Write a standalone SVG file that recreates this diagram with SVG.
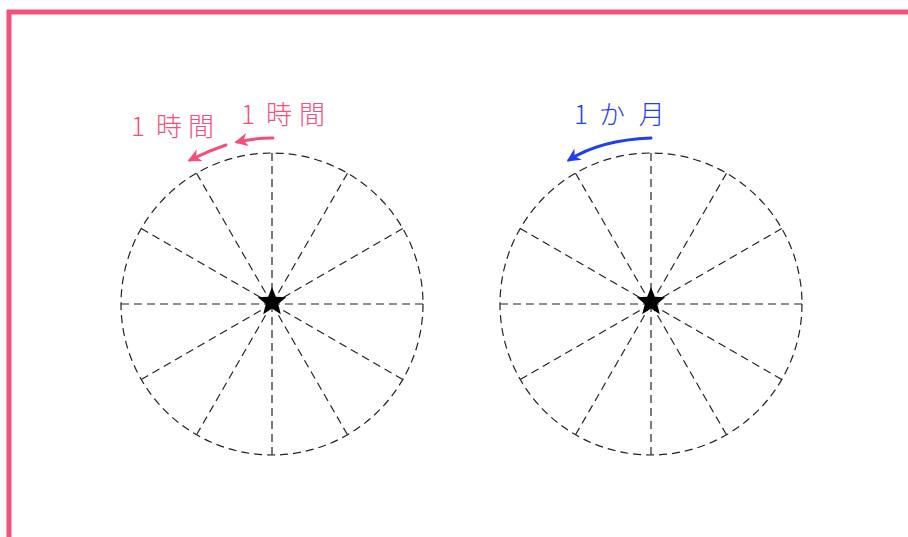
<svg xmlns="http://www.w3.org/2000/svg" width="908" height="537" viewBox="0 0 908 537">
<style>
.dash{fill:none;stroke:#222;stroke-width:1.2;stroke-dasharray:8 5}
.lbl{font-family:"Noto Sans CJK JP","Noto Sans",sans-serif;font-size:26px;font-weight:300}
.pink{fill:#f5507a}
.blue{fill:#1f3df5}
</style>
<defs>
<path id="star" d="M0,-15 L3.82,-5.26 L14.27,-4.64 L6.18,2.01 L8.82,12.14 L0,6.5 L-8.82,12.14 L-6.18,2.01 L-14.27,-4.64 L-3.82,-5.26 Z" fill="#000"/>
<g id="wheel">
<circle class="dash" r="151"/>
<path class="dash" d="M0,0 L151,0 M0,0 L130.8,75.5 M0,0 L75.5,130.8 M0,0 L0,151 M0,0 L-75.5,130.8 M0,0 L-130.8,75.5 M0,0 L-151,0 M0,0 L-130.8,-75.5 M0,0 L-75.5,-130.8 M0,0 L0,-151 M0,0 L75.5,-130.8 M0,0 L130.8,-75.5"/>
</g>
<marker id="ahp" viewBox="0 0 10 10" refX="8" refY="5" markerWidth="4.5" markerHeight="4.5" orient="auto" markerUnits="strokeWidth">
<path d="M0,0 L10,5 L0,10 L3,5 Z" fill="#f5507a"/>
</marker>
<marker id="ahb" viewBox="0 0 10 10" refX="8" refY="5" markerWidth="4.5" markerHeight="4.5" orient="auto" markerUnits="strokeWidth">
<path d="M0,0 L10,5 L0,10 L3,5 Z" fill="#1f3df5"/>
</marker>
</defs>
<g id="frame">
<path d="M9,537 L9,12 L908,12" fill="none" stroke="#f5507a" stroke-width="5"/>
</g>
<g id="clock-left">
<use href="#wheel" x="272" y="304"/>
<use href="#star" x="272" y="302"/>
</g>
<g id="clock-right">
<use href="#wheel" x="651" y="304"/>
<use href="#star" x="651" y="302"/>
</g>
<g id="labels">
<text class="lbl pink" x="131 146 156 188" y="136">1 時間</text>
<text class="lbl pink" x="241 256 266 299" y="124">1 時間</text>
<text class="lbl blue" x="574 589 599 633" y="124">1 か 月</text>
</g>
<g id="connectors">
<path d="M226,145 Q208,151 190,160" fill="none" stroke="#f5507a" stroke-width="3" stroke-linecap="round" marker-end="url(#ahp)"/>
<path d="M273,138 Q255,138 237,142" fill="none" stroke="#f5507a" stroke-width="3" stroke-linecap="round" marker-end="url(#ahp)"/>
<path d="M651,138 Q600,140 569,160" fill="none" stroke="#1f3df5" stroke-width="3" stroke-linecap="round" marker-end="url(#ahb)"/>
</g>
</svg>
